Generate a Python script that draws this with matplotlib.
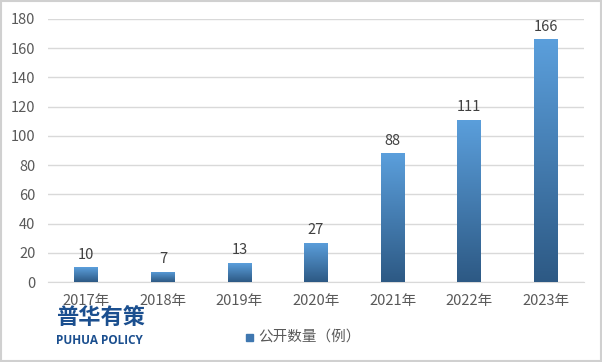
import numpy as np
import matplotlib.pyplot as plt
from matplotlib.colors import LinearSegmentedColormap
from matplotlib.patches import Rectangle

plt.rcParams['font.family'] = ['Noto Sans CJK SC', 'DejaVu Sans']

years = ["2017年", "2018年", "2019年", "2020年", "2021年", "2022年", "2023年"]
counts = [10, 7, 13, 27, 88, 111, 166]
series_name = "公开数量（例）"

fig = plt.figure(figsize=(6.02, 3.62), dpi=100)
ax = fig.add_axes([48 / 602, 80 / 362, 536 / 602, 263 / 362])

cmap = LinearSegmentedColormap.from_list("bar", ["#2d5984", "#5b9fdc"])
grad = np.linspace(0, 1, 256).reshape(-1, 1)
x = np.arange(len(years))
width = 0.31

bars = ax.bar(x, counts, width=width, color="none", edgecolor="none", zorder=3)
for b in bars:
    x0, h = b.get_x(), b.get_height()
    im = ax.imshow(grad, cmap=cmap, origin="lower", aspect="auto",
                   extent=(x0, x0 + width, 0, h), zorder=3)
    im.set_clip_path(b)

for xi, v in zip(x, counts):
    ax.text(xi, v + 4, str(v), ha="center", va="bottom", fontsize=10.5, color="#404040")

ax.set_xlim(-0.5, len(years) - 0.5)
ax.set_ylim(0, 180)
ax.set_yticks(range(0, 181, 20))
ax.set_xticks(x)
ax.set_xticklabels(years)
ax.grid(axis="y", color="#d9d9d9", linewidth=1)
ax.set_axisbelow(True)
for s in ["top", "right", "left"]:
    ax.spines[s].set_visible(False)
ax.spines["bottom"].set_color("#d9d9d9")
ax.tick_params(length=0, colors="#595959", labelsize=10.5)
ax.tick_params(axis="y", pad=9)
ax.tick_params(axis="x", pad=9)

# legend
fig.patches.append(Rectangle((246 / 602, 1 - 341 / 362), 7 / 602, 7 / 362,
                             transform=fig.transFigure, color="#3f77b0"))
fig.text(258 / 602, 1 - 337 / 362, series_name, fontsize=10.5, color="#595959",
         va="center", ha="left")

# logo
fig.text(56 / 602, 1 - 317 / 362, "普华有策", fontsize=16, fontweight="bold",
         color="#1b4f8f", va="center", ha="left")
fig.text(56 / 602, 1 - 340 / 362, "PUHUA POLICY", fontsize=8.5, fontweight="bold",
         color="#1b4f8f", va="center", ha="left", family="Open Sans")

# frame
fig.patches.append(Rectangle((0.002, 0.003), 0.996, 0.994, transform=fig.transFigure,
                             fill=False, edgecolor="#d0d0d0", linewidth=1.5))

fig.savefig("out.png", dpi=100)
